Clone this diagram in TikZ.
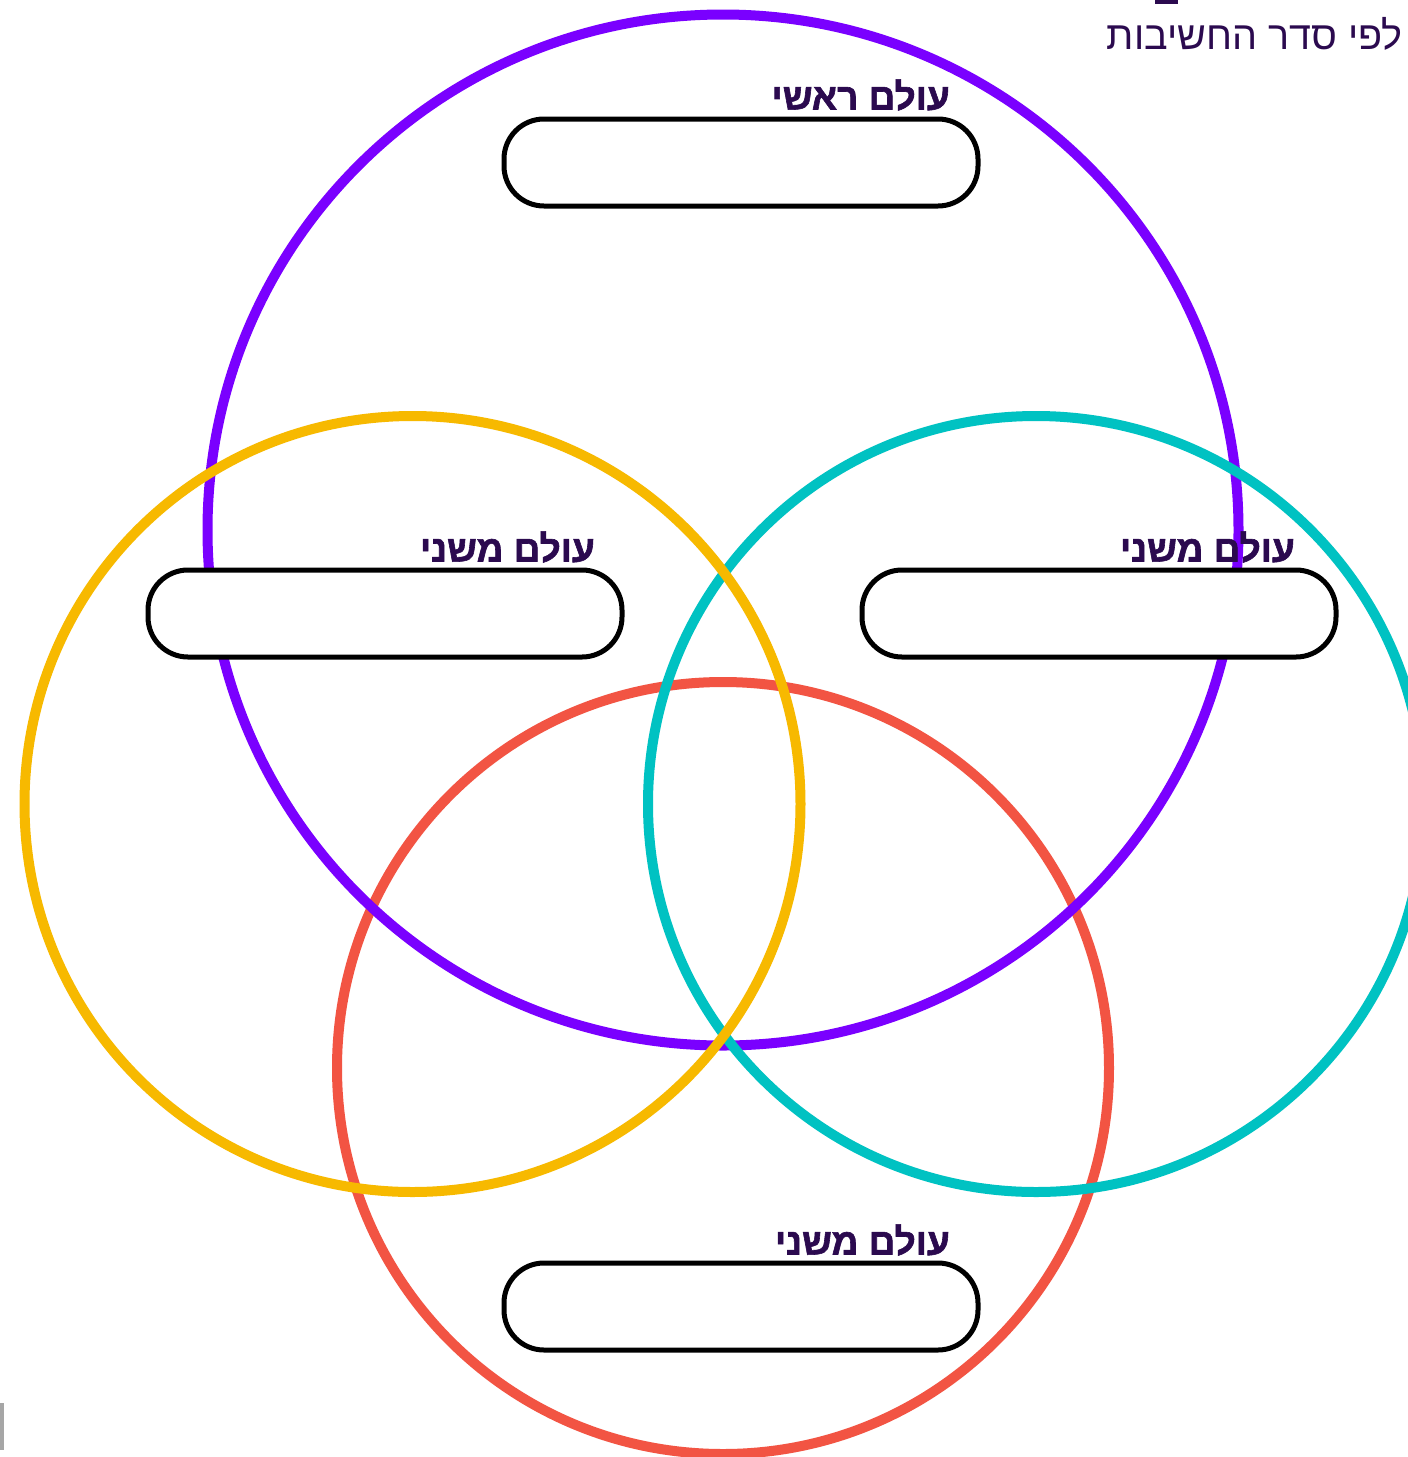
\documentclass[tikz,border=0pt]{standalone}
\usepackage{fontspec}
\setmainfont{Liberation Sans}
\newfontfamily\hebfont[Script=Hebrew]{Liberation Sans}
\newfontfamily\hebheavy[Script=Hebrew, FakeBold=1.6]{Liberation Sans Bold}
\TeXXeTstate=1
\definecolor{cpurple}{HTML}{7A00FF}
\definecolor{cyellow}{HTML}{F7B900}
\definecolor{ccyan}{HTML}{00C2C2}
\definecolor{cred}{HTML}{F25443}
\definecolor{ctext}{HTML}{2B0A4F}
\tikzset{
  ring/.style={line width=10pt},
  slot/.style={draw=black, fill=white, line width=5pt, rounded corners=40pt,
    minimum width=474pt, minimum height=87pt, inner sep=0pt},
  worldlabel/.style={anchor=east, inner sep=0pt, text=ctext, font=\hebheavy\fontsize{37}{40}\selectfont},
}
\begin{document}
\begin{tikzpicture}[x=1pt,y=-1pt]
\useasboundingbox (0,0) rectangle (1408,1457);
\fill[white] (0,0) rectangle (1408,1457);
% circles
\draw[ring, cred] (723,1068) circle (386);
\draw[ring, cpurple] (723,530) circle (515.5);
\draw[ring, ccyan] (1036,804) circle (388);
\draw[ring, cyellow] (412.5,804) circle (388);
% slots
\node[slot] (top) at (741,162.5) {};
\node[slot] (left) at (385,613.5) {};
\node[slot] (right) at (1099,613.5) {};
\node[slot] (bottom) at (741,1306.5) {};
% labels
\node[worldlabel] (ltop) at (950,95) {\beginR עולם ראשי\endR};
\node[worldlabel] (lleft) at (595,547) {\beginR עולם משני\endR};
\node[worldlabel] (lright) at (1295,547) {\beginR עולם משני\endR};
\node[worldlabel] (lbottom) at (950,1240) {\beginR עולם משני\endR};
% title
\node[anchor=east, inner sep=0pt, text=ctext, font=\hebfont\fontsize{39.5}{42}\selectfont] (title) at (1403,34) {\beginR לפי סדר החשיבות\endR};
% fragments at the edges
\fill[ctext] (1155,0) rectangle (1178,4);
\fill[gray!70] (0,1403) rectangle (4,1450);
\end{tikzpicture}
\end{document}
